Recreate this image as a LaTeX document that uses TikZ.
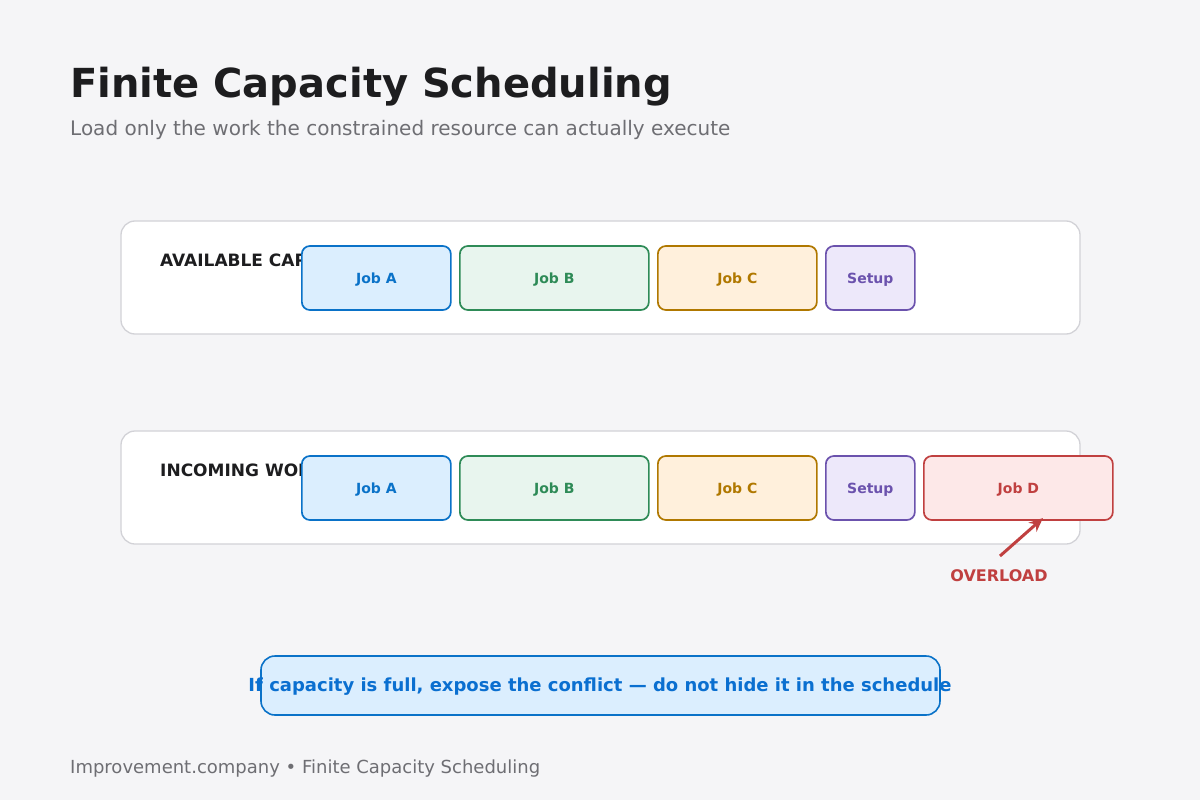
\documentclass[tikz,border=0pt]{standalone}
\usepackage{fontspec}
\setmainfont{DejaVu Sans}
\usetikzlibrary{arrows.meta}
\definecolor{bg}{HTML}{F5F5F7}
\definecolor{panelstroke}{HTML}{D2D2D7}
\definecolor{titlec}{HTML}{1D1D1F}
\definecolor{subc}{HTML}{6E6E73}
\definecolor{blueS}{HTML}{0A72C8}
\definecolor{blueF}{HTML}{DBEEFE}
\definecolor{blueT}{HTML}{0A6FD0}
\definecolor{greenS}{HTML}{2E8B57}
\definecolor{greenF}{HTML}{E8F5EE}
\definecolor{orangeS}{HTML}{B07800}
\definecolor{orangeF}{HTML}{FFF0DC}
\definecolor{purpleS}{HTML}{6B52AD}
\definecolor{purpleF}{HTML}{EDE8FA}
\definecolor{redS}{HTML}{C04040}
\definecolor{redF}{HTML}{FDE8E8}
\tikzset{
  panel/.style={draw=panelstroke, fill=white, line width=1.3pt, rounded corners=14pt},
  job/.style={rounded corners=8pt, line width=1.7pt, minimum height=64pt, inner sep=0pt,
     text height=10pt, text depth=0pt,
     font=\fontsize{14}{16}\selectfont\bfseries, anchor=west},
  jobA/.style={job, draw=blueS, fill=blueF, text=blueS, minimum width=149pt},
  jobB/.style={job, draw=greenS, fill=greenF, text=greenS, minimum width=189pt},
  jobC/.style={job, draw=orangeS, fill=orangeF, text=orangeS, minimum width=159pt},
  jobS/.style={job, draw=purpleS, fill=purpleF, text=purpleS, minimum width=89pt},
  jobD/.style={job, draw=redS, fill=redF, text=redS, minimum width=189pt},
  lbl/.style={font=\fontsize{17}{19}\selectfont\bfseries, text=titlec, anchor=base west, inner sep=0pt},
}
\begin{document}
\begin{tikzpicture}[x=1pt,y=-1pt]
\fill[bg] (0,0) rectangle (1200,800);
\useasboundingbox (0,0) rectangle (1200,800);

\node[anchor=base west, inner sep=0pt, text=titlec, font=\fontsize{40}{44}\selectfont\bfseries] (title) at (70,98) {Finite Capacity Scheduling};
\node[anchor=base west, inner sep=0pt, text=subc, font=\fontsize{20}{24}\selectfont] (sub) at (70,135) {Load only the work the constrained resource can actually execute};

% top panel
\draw[panel] (121,221) rectangle (1080,334);
\node[lbl] (lab1) at (160,266) {AVAILABLE CAPACITY};
\node[jobA] (a1) at (301,278) {Job A};
\node[jobB] (b1) at (459,278) {Job B};
\node[jobC] (c1) at (657,278) {Job C};
\node[jobS] (s1) at (825,278) {Setup};

% bottom panel
\draw[panel] (121,431) rectangle (1080,544);
\node[lbl] (lab2) at (160,476) {INCOMING WORK};
\node[jobA] (a2) at (301,488) {Job A};
\node[jobB] (b2) at (459,488) {Job B};
\node[jobC] (c2) at (657,488) {Job C};
\node[jobS] (s2) at (825,488) {Setup};
\node[jobD] (d2) at (923,488) {Job D};

\coordinate (arrstart) at (1000,556);
\coordinate (arrend) at (1043,518);
\draw[redS, line width=3pt, -{Stealth[length=14pt,width=12pt]}] (arrstart) -- (arrend);
\node[text=redS, font=\fontsize{16}{18}\selectfont\bfseries, inner sep=0pt] (ov) at (999,576) {OVERLOAD};

% banner
\draw[draw=blueS, fill=blueF, line width=1.6pt, rounded corners=14pt] (261,656) rectangle (940,715);
\node[text=blueT, inner sep=0pt, font=\fontsize{18}{20}\selectfont\bfseries] (msg) at (600,687)
  {\resizebox{703pt}{!}{\vphantom{E}If capacity is full, expose the conflict — do not hide it in the schedule}};

\node[anchor=base west, inner sep=0pt, text=subc, font=\fontsize{18}{21}\selectfont] (foot) at (70,773) {Improvement.company • Finite Capacity Scheduling};
\end{tikzpicture}
\end{document}
